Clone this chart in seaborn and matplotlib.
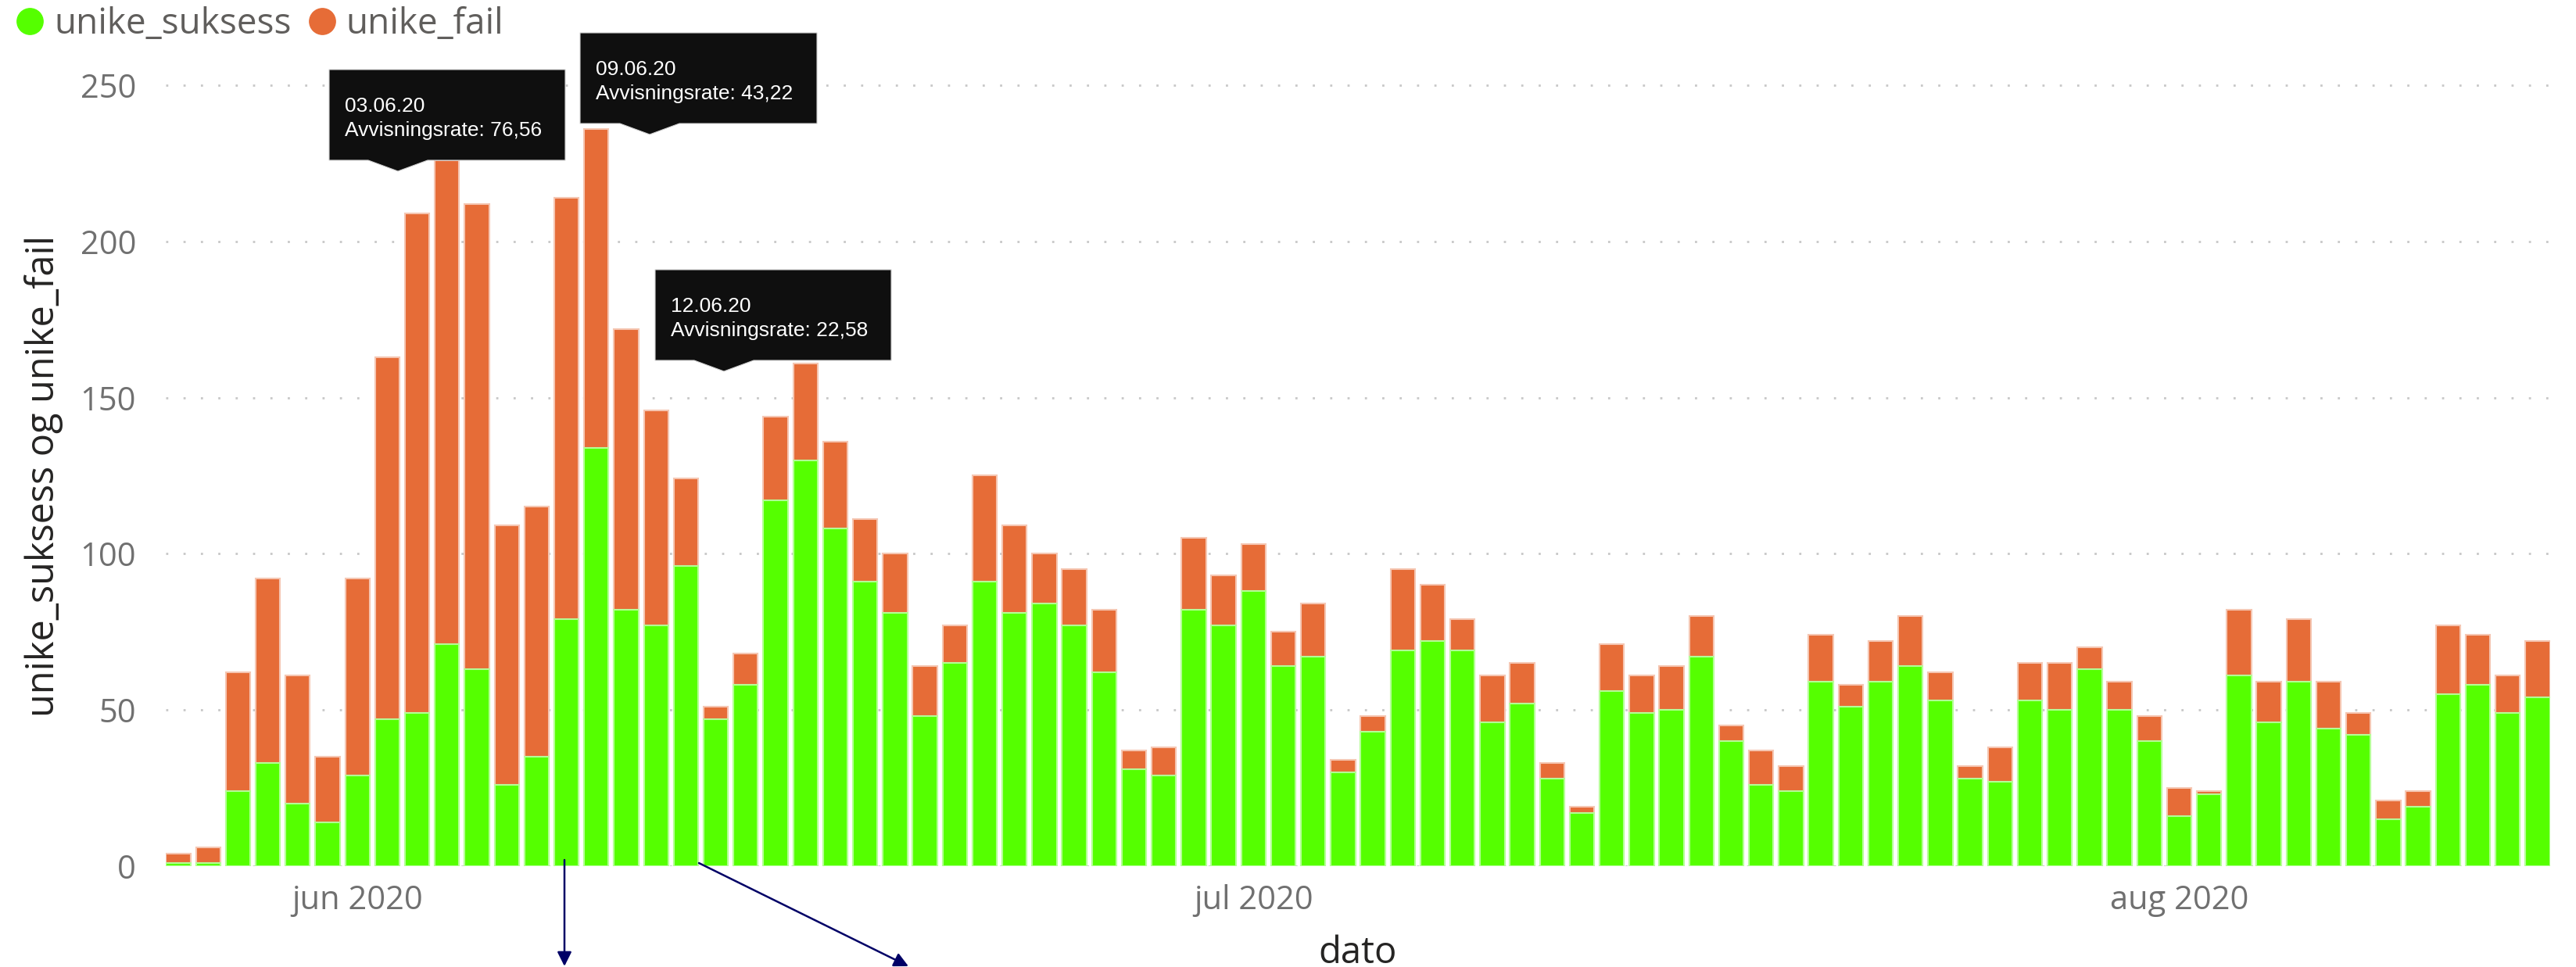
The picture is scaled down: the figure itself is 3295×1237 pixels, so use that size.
import numpy as np
import pandas as pd
import matplotlib
matplotlib.use("Agg")
import matplotlib.pyplot as plt
import seaborn as sns
from matplotlib.lines import Line2D
from matplotlib.patches import Polygon

# ---------------- data ----------------
dato = pd.date_range("2020-05-26", "2020-08-13", freq="D")
unike_suksess = [1, 1, 24, 33, 20, 14, 29, 47, 49, 71, 63, 26, 35, 79, 134, 82, 77, 96, 47, 58,
                 117, 130, 108, 91, 81, 48, 65, 91, 81, 84, 77, 62, 31, 29, 82, 77, 88, 64, 67, 30,
                 43, 69, 72, 69, 46, 52, 28, 17, 56, 49, 50, 67, 40, 26, 24, 59, 51, 59, 64, 53,
                 28, 27, 53, 50, 63, 50, 40, 16, 23, 61, 46, 59, 44, 42, 15, 19, 55, 58, 49, 54]
unike_fail = [3, 5, 38, 59, 41, 21, 63, 116, 160, 155, 149, 83, 80, 135, 102, 90, 69, 28, 4, 10,
              27, 31, 28, 20, 19, 16, 12, 34, 28, 16, 18, 20, 6, 9, 23, 16, 15, 11, 17, 4,
              5, 26, 18, 10, 15, 13, 5, 2, 15, 12, 14, 13, 5, 11, 8, 15, 7, 13, 16, 9,
              4, 11, 12, 15, 7, 9, 8, 9, 1, 21, 13, 20, 15, 7, 6, 5, 22, 16, 12, 18]
month_ticks = ["2020-06-01", "2020-07-01", "2020-08-01"]
month_labels = ["jun 2020", "jul 2020", "aug 2020"]
y_ticks = [0, 50, 100, 150, 200, 250]
tooltip_dates = ["2020-06-03", "2020-06-09", "2020-06-12"]

# ---------------- style ----------------
sns.set_style("white")
plt.rcParams["font.family"] = ["Open Sans", "DejaVu Sans"]

GREEN = "#55FF00"
GREEN_EDGE = "#B4FF96"
ORANGE = "#E66C37"
ORANGE_EDGE = "#F5C6B2"

labels = dato.strftime("%d.%m.%y")
df = pd.DataFrame({
    "dato": labels,
    "unike_suksess": unike_suksess,
    "unike_fail": unike_fail,
})
df["total"] = df["unike_suksess"] + df["unike_fail"]

W, H = 3295, 1237
fig = plt.figure(figsize=(W / 100, H / 100), dpi=100)
ax = fig.add_axes([211.6 / W, 1 - 1108.4 / H, (3262.3 - 211.6) / W, (1108.4 - 68.6) / H])

sns.barplot(data=df, x="dato", y="total", order=list(labels), color=ORANGE, saturation=1,
            width=0.82, edgecolor=ORANGE_EDGE, linewidth=1.5, errorbar=None, ax=ax)
sns.barplot(data=df, x="dato", y="unike_suksess", order=list(labels), color=GREEN, saturation=1,
            width=0.82, edgecolor=GREEN_EDGE, linewidth=1.5, errorbar=None, ax=ax)

ax.set_xlim(-0.43, len(labels) - 1 + 0.43)
ax.set_ylim(0, 260)
ax.set_yticks(y_ticks)
ax.set_yticklabels([str(v) for v in y_ticks])
pos = [list(dato).index(pd.Timestamp(d)) for d in month_ticks]
ax.set_xticks(pos)
ax.set_xticklabels(month_labels)

ax.set_axisbelow(True)
ax.yaxis.grid(True, color="#C8C8C8", linestyle=(0, (1, 7)), linewidth=2)
ax.xaxis.grid(False)
for s in ax.spines.values():
    s.set_visible(False)
ax.tick_params(axis="both", length=0, labelsize=30, labelcolor="#707070")
ax.tick_params(axis="x", pad=16)
ax.tick_params(axis="y", pad=27)

ax.set_ylabel("unike_suksess og unike_fail", fontsize=35, color="#252423", va="center")
ax.yaxis.set_label_coords(-0.051, 0.48)
ax.set_xlabel("dato", fontsize=34, color="#252423")
ax.xaxis.set_label_coords(0.5, -0.1188)
ax.xaxis.label.set_va("baseline")

# ---------------- legend ----------------
handles = [Line2D([], [], marker="o", linestyle="", markersize=24, color=GREEN),
           Line2D([], [], marker="o", linestyle="", markersize=24, color=ORANGE)]
fig.legend(handles, ["unike_suksess", "unike_fail"], loc="center left",
           bbox_to_anchor=(20 / W, 1 - 31 / H), ncol=2, frameon=False, fontsize=33,
           handlelength=0.8, handletextpad=0.27, columnspacing=0.45, borderpad=0,
           borderaxespad=0, labelcolor="#605E5C")


# ---------------- tooltips ----------------
def fx(x):
    return x / W


def fy(y):
    return 1 - y / H


tooltip_boxes = [(421, 89, 302, 116, 509), (742, 42, 303, 116, 831), (838, 345, 302, 116, 926)]
for d, (L, T, bw, bh, px) in zip(tooltip_dates, tooltip_boxes):
    i = list(dato).index(pd.Timestamp(d))
    rate = df["unike_fail"][i] / df["total"][i] * 100
    B = T + bh
    verts = [(L, T), (L + bw, T), (L + bw, B), (px + 38, B), (px, B + 14), (px - 38, B), (L, B)]
    poly = Polygon([(fx(x), fy(y)) for x, y in verts], closed=True, transform=fig.transFigure,
                   facecolor="#0F0F0F", edgecolor="#D0D0D0", linewidth=0.8, zorder=10)
    fig.add_artist(poly)
    fig.text(fx(L + 20), fy(T + 54), dato[i].strftime("%d.%m.%y"), color="white",
             fontsize=19, family=["Liberation Sans", "DejaVu Sans"], va="baseline", zorder=11)
    fig.text(fx(L + 20), fy(T + 85), "Avvisningsrate: " + f"{rate:.2f}".replace(".", ","),
             color="white", fontsize=19, family=["Liberation Sans", "DejaVu Sans"],
             va="baseline", zorder=11)

# ---------------- arrows ----------------
arrow_kw = dict(arrowstyle="-|>,head_length=1.1,head_width=0.55", color="#000066", lw=1.8,
                shrinkA=0, shrinkB=0, mutation_scale=10)
ax.annotate("", xy=(722, H - 1236), xytext=(722, H - 1100), xycoords="figure pixels",
            textcoords="figure pixels", arrowprops=arrow_kw, annotation_clip=False)
ax.annotate("", xy=(1162, H - 1236), xytext=(894, H - 1104), xycoords="figure pixels",
            textcoords="figure pixels", arrowprops=arrow_kw, annotation_clip=False)

fig.savefig("out.png", dpi=100)
